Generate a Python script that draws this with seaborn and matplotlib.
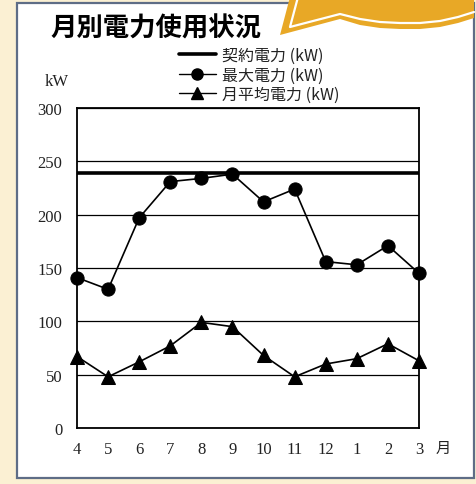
import numpy as np
import pandas as pd
import matplotlib
matplotlib.use("Agg")
import matplotlib.pyplot as plt
from matplotlib.patches import Rectangle, Polygon
from matplotlib.lines import Line2D
import seaborn as sns

# ---- data ----
months = ["4", "5", "6", "7", "8", "9", "10", "11", "12", "1", "2", "3"]
max_kw = [141, 130, 197, 231, 234, 238, 212, 224, 156, 153, 171, 145]
avg_kw = [67, 48, 62, 77, 99, 95, 68, 48, 60, 65, 79, 63]
contract_kw = 239
y_ticks = [0, 50, 100, 150, 200, 250, 300]
title = "月別電力使用状況"
legend_labels = ["契約電力 (kW)", "最大電力 (kW)", "月平均電力 (kW)"]

sns.set_style("white")
plt.rcParams["font.family"] = ["Liberation Serif", "DejaVu Serif"]

W, H = 477, 485
fig = plt.figure(figsize=(W / 100, H / 100), dpi=100)
cream = "#FBF0D3"
fig.patch.set_facecolor(cream)

def px(x, y):
    return (x / W, 1 - y / H)

# white panel with gray-blue border
x0, y0 = px(17, 479)
x1, y1 = px(474, 4)
fig.patches.append(Rectangle((x0, y0), x1 - x0, y1 - y0, transform=fig.transFigure,
                             facecolor="white", edgecolor="#5E6D86", linewidth=1.6, zorder=-3))

# orange banner top right
outer = [(280, 36), (340, 20), (360, 26), (380, 29), (400, 30), (420, 30), (440, 28),
         (458, 24), (474, 19), (474, -2), (290, -2)]
fig.patches.append(Polygon([px(*p) for p in outer], closed=True, transform=fig.transFigure,
                           facecolor="#E8A826", edgecolor="none", zorder=-2))
inner = [(298, -2), (290, 28), (340, 15), (360, 20), (380, 23), (400, 24), (420, 24),
         (440, 22), (458, 18), (474, 13)]
fig.lines.append(Line2D([px(*p)[0] for p in inner], [px(*p)[1] for p in inner],
                        transform=fig.transFigure, color="white", linewidth=1.6, zorder=-1))

ax = fig.add_axes([77 / W, 56 / H, (419 - 77) / W, (429 - 109) / H])
ax.set_zorder(5)
ax.set_facecolor("white")

df = pd.DataFrame({"pos": np.arange(len(months)), "month": months,
                   "max": max_kw, "avg": avg_kw})

ax.axhline(contract_kw, color="black", linewidth=2.6, zorder=3)
sns.lineplot(data=df, x="pos", y="max", ax=ax, color="black", linewidth=1.2,
             marker="o", markersize=9.5, markeredgecolor="black", zorder=4, clip_on=False)
sns.lineplot(data=df, x="pos", y="avg", ax=ax, color="black", linewidth=1.2,
             marker="^", markersize=10, markeredgecolor="black", zorder=4, clip_on=False)

ax.set_xlim(0, len(months) - 1)
ax.set_ylim(0, 300)
ax.set_yticks(y_ticks)
ax.set_xticks(df["pos"])
ax.set_xticklabels(months)
ax.set_xlabel("")
ax.set_ylabel("")
ax.yaxis.grid(True, color="black", linewidth=0.9)
ax.xaxis.grid(False)
ax.set_axisbelow(True)
for s in ax.spines.values():
    s.set_color("black")
    s.set_linewidth(1.3)
ax.tick_params(axis="y", length=0, pad=10.5, labelsize=12, colors="#222222")
ax.tick_params(axis="x", direction="in", length=3, width=1, pad=9.5, labelsize=12,
               colors="#222222")
for t in ax.get_xticklabels() + ax.get_yticklabels():
    t.set_color("#222222")

fig.text(57 / W, 1 - 82 / H, "kW", ha="center", va="center", fontsize=12,
         color="#222222")
fig.text(443 / W, 1 - 448 / H, "月", ha="center", va="center", fontsize=11,
         family=["Noto Sans CJK JP"], color="#222222")

fig.text(50 / W, 1 - 29 / H, title, ha="left", va="center", fontsize=19,
         fontweight="bold", family=["Noto Sans CJK JP"], color="black")

handles = [
    Line2D([], [], color="black", linewidth=2.6),
    Line2D([], [], color="black", linewidth=1.0, marker="o", markersize=8),
    Line2D([], [], color="black", linewidth=1.0, marker="^", markersize=8),
]
leg = fig.legend(handles, legend_labels, loc="upper left",
                 bbox_to_anchor=px(171, 40), bbox_transform=fig.transFigure,
                 frameon=False, borderpad=0, handlelength=2.3, handletextpad=0.4,
                 labelspacing=0.15, prop={"family": ["Noto Sans CJK JP"], "size": 11.5})
for t in leg.get_texts():
    t.set_color("#222222")

fig.savefig("out.png", dpi=100, facecolor=cream)
